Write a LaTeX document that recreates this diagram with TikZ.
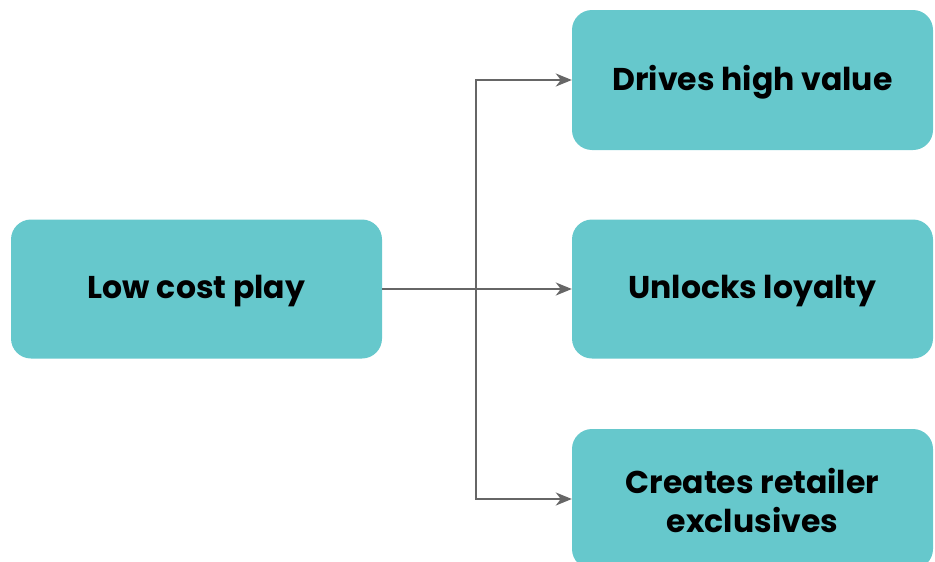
\documentclass[tikz,border=0pt]{standalone}
\usepackage{fontspec}
\setmainfont{Poppins}[BoldFont={Poppins Bold}]
\usetikzlibrary{arrows.meta}
\definecolor{teal1}{HTML}{66C8CC}
\definecolor{lin}{HTML}{666666}
\begin{document}
\begin{tikzpicture}[x=1pt,y=-1pt,
  box/.style={fill=teal1, draw=none, rounded corners=20pt, minimum height=139pt},
  lbl/.style={font=\bfseries\fontsize{31.5}{39}\selectfont, align=center, text=black, inner sep=0pt},
  conn/.style={draw=lin, line width=2pt, -{Stealth[length=16pt,width=13pt,inset=5pt]}}]
\useasboundingbox (0,0) rectangle (935,562);
\clip (0,0) rectangle (935,562);
\node[box, minimum width=371pt] (low) at (196.5,289) {};
\node[box, minimum width=361pt, minimum height=140pt] (drv) at (752.5,80) {};
\node[box, minimum width=361pt] (unl) at (752.5,289) {};
\node[box, minimum width=361pt, minimum height=140pt] (cre) at (752.5,499) {};
\node[lbl] (tlow) at ([yshift=-2pt]low.center) {Low cost play};
\node[lbl] (tdrv) at ([yshift=-2pt]drv.center) {Drives high value};
\node[lbl] (tunl) at ([yshift=-2pt]unl.center) {Unlocks loyalty};
\node[lbl] (tcre) at ([yshift=-2pt]cre.center) {Creates retailer\\exclusives};
\coordinate (j) at (476,289);
\draw[conn] (low.east) -- (unl.west);
\draw[conn] (j) |- (drv.west);
\draw[conn] (j) |- (cre.west);
\end{tikzpicture}
\end{document}
